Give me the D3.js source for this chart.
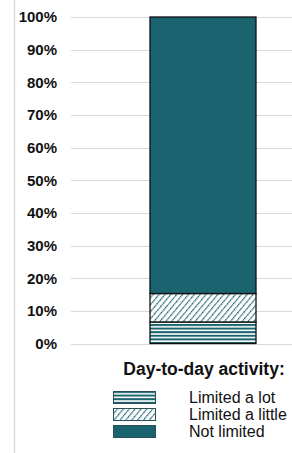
<!DOCTYPE html>
<html>
<head>
<meta charset="utf-8">
<script src="https://cdn.jsdelivr.net/npm/d3@7"></script>
<style>
  body { margin: 0; background: #fff; }
  text { font-family: "Liberation Sans", Arial, sans-serif; }
</style>
</head>
<body>
<div id="container"></div>
<script>
var categories = ["Day-to-day activity"]
var series = ["Limited a lot", "Limited a little", "Not limited"]
var values = [6.6, 8.7, 84.7]
var ticks = [0, 10, 20, 30, 40, 50, 60, 70, 80, 90, 100]

var width = 292, height = 453
var teal = "#19646f"

var svg = d3.select("#container").append("svg")
    .attr("width", width)
    .attr("height", height)

var defs = svg.append("defs")

// horizontal stripes
var p1 = defs.append("pattern")
    .attr("id", "stripes")
    .attr("patternUnits", "userSpaceOnUse")
    .attr("width", 6).attr("height", 3.6)
p1.append("rect").attr("width", 6).attr("height", 3.6).attr("fill", "#fff")
p1.append("rect").attr("y", 0).attr("width", 6).attr("height", 2).attr("fill", teal)

// diagonal hatch
var p2 = defs.append("pattern")
    .attr("id", "hatch")
    .attr("patternUnits", "userSpaceOnUse")
    .attr("width", 4.5).attr("height", 4.5)
    .attr("patternTransform", "rotate(40)")
p2.append("rect").attr("width", 4.5).attr("height", 4.5).attr("fill", "#fff")
p2.append("line")
    .attr("x1", 0).attr("y1", 0).attr("x2", 0).attr("y2", 4.5)
    .attr("stroke", teal).attr("stroke-width", 2.4)
    .attr("stroke-dasharray", "1.8,0.5")

var fills = ["url(#stripes)", "url(#hatch)", teal]

var y = d3.scaleLinear().domain([0, 100]).range([343.5, 17])
var x = d3.scaleBand().domain(categories).range([150, 256]).padding(0)

// left border line
svg.append("line")
    .attr("x1", 14.5).attr("x2", 14.5)
    .attr("y1", 0).attr("y2", height)
    .attr("stroke", "#d9d9d9").attr("stroke-width", 1.5)

// gridlines
svg.append("g").selectAll("line")
    .data(ticks).enter().append("line")
    .attr("x1", 71).attr("x2", width)
    .attr("y1", function(d) { return Math.round(y(d)) + 0.5 })
    .attr("y2", function(d) { return Math.round(y(d)) + 0.5 })
    .attr("stroke", "#d9d9d9")

// y axis labels
var yAxis = d3.axisLeft(y).tickValues(ticks)
    .tickFormat(function(d) { return d + "%" })
    .tickSize(0).tickPadding(0)
var ga = svg.append("g").attr("transform", "translate(57,0)").call(yAxis)
ga.select(".domain").remove()
ga.selectAll("text")
    .attr("font-family", "Liberation Sans, Arial, sans-serif")
    .attr("font-size", 15)
    .attr("font-weight", "bold")
    .attr("fill", "#111")

// stacked bar
var stackData = []
var acc = 0
values.forEach(function(v, i) {
    stackData.push({ name: series[i], y0: acc, y1: acc + v, fill: fills[i] })
    acc += v
})

svg.append("g").selectAll("rect")
    .data(stackData).enter().append("rect")
    .attr("x", x(categories[0]))
    .attr("width", x.bandwidth())
    .attr("y", function(d) { return y(d.y1) })
    .attr("height", function(d) { return y(d.y0) - y(d.y1) })
    .attr("fill", function(d) { return d.fill })
    .attr("stroke", "#111")
    .attr("stroke-width", 1.3)

// legend
svg.append("text")
    .attr("x", 204).attr("y", 375)
    .attr("text-anchor", "middle")
    .attr("font-size", 17.5)
    .attr("font-weight", "bold")
    .attr("fill", "#111")
    .text("Day-to-day activity:")

var lg = svg.append("g").selectAll("g")
    .data(series).enter().append("g")
    .attr("transform", function(d, i) { return "translate(0," + (391 + i * 17) + ")" })

lg.append("rect")
    .attr("x", 113.5).attr("y", 0.5)
    .attr("width", 42).attr("height", 12)
    .attr("fill", function(d, i) { return fills[i] })
    .attr("stroke", "#2a4f57").attr("stroke-width", 1)

lg.append("text")
    .attr("x", 189).attr("y", 11.5)
    .attr("font-size", 16)
    .attr("fill", "#111")
    .text(function(d) { return d })
</script>
</body>
</html>
